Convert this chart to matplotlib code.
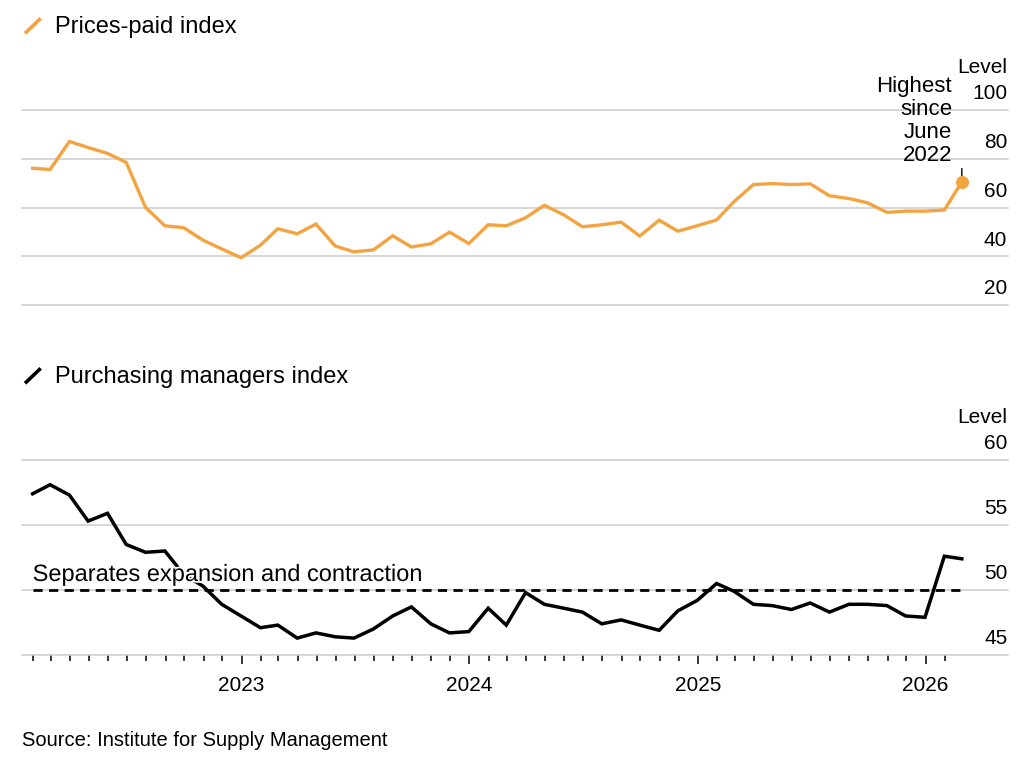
import matplotlib
matplotlib.use("Agg")
import matplotlib.pyplot as plt
import matplotlib.dates as mdates
from matplotlib.ticker import FixedLocator, NullFormatter
from matplotlib.lines import Line2D
import matplotlib.patheffects as pe
import pandas as pd

plt.rcParams['font.family'] = ['Liberation Sans', 'DejaVu Sans']

# ---------------- data ----------------
months = pd.date_range('2022-01-31', periods=50, freq='ME')   # monthly readings, Jan 2022 - Feb 2026

prices_paid = [76.1, 75.6, 87.1, 84.6, 82.2, 78.5, 60.0, 52.5, 51.7, 46.6, 43.0, 39.4,
               44.5, 51.3, 49.2, 53.2, 44.2, 41.8, 42.6, 48.4, 43.8, 45.1, 49.9, 45.2,
               52.9, 52.5, 55.8, 60.9, 57.0, 52.1, 52.9, 54.0, 48.3, 54.8, 50.3, 52.5,
               54.9, 62.4, 69.4, 69.8, 69.4, 69.7, 64.8, 63.7, 61.9, 58.0, 58.5, 58.5,
               59.0, 70.5]

pmi = [57.4, 58.1, 57.3, 55.3, 55.9, 53.5, 52.9, 53.0, 51.2, 50.3, 48.9, 48.0,
       47.1, 47.3, 46.3, 46.7, 46.4, 46.3, 47.0, 48.0, 48.7, 47.4, 46.7, 46.8,
       48.6, 47.3, 49.8, 48.9, 48.6, 48.3, 47.4, 47.7, 47.3, 46.9, 48.4, 49.2,
       50.5, 49.9, 48.9, 48.8, 48.5, 49.0, 48.3, 48.9, 48.9, 48.8, 48.0, 47.9,
       52.6, 52.4]

prices_levels = [20, 40, 60, 80, 100]
pmi_levels = [45, 50, 55, 60]
threshold = 50
year_ticks = pd.to_datetime(['2023-01-01', '2024-01-01', '2025-01-01', '2026-01-01'])
month_ticks = pd.date_range('2022-02-01', '2026-02-01', freq='MS')

title_top = 'Prices-paid index'
title_bottom = 'Purchasing managers index'
note_text = 'Highest\nsince\nJune\n2022'
threshold_text = 'Separates expansion and contraction'
source_text = 'Source: Institute for Supply Management'

# ---------------- style ----------------
ORANGE = '#F3A340'
GRID = '#cccccc'
W, H = 1035, 770

fig = plt.figure(figsize=(W / 100, H / 100), dpi=100)


def fx(px):
    return px / W


def fy(py):
    return 1 - py / H


ax1 = fig.add_axes([fx(22), fy(305), (1008 - 22) / W, (305 - 110) / H])
ax2 = fig.add_axes([fx(22), fy(655), (1008 - 22) / W, (655 - 460) / H])

xlim = (pd.Timestamp('2022-01-14'), pd.Timestamp('2026-05-13'))

for ax, levels in ((ax1, prices_levels), (ax2, pmi_levels)):
    for s in ax.spines.values():
        s.set_visible(False)
    ax.set_xlim(*xlim)
    ax.set_ylim(levels[0], levels[-1])
    ax.set_yticks(levels)
    ax.yaxis.grid(True, color=GRID, lw=1.1)
    for gl in ax.get_ygridlines():
        gl.set_clip_on(False)
    ax.tick_params(axis='y', left=False, right=False, labelleft=False, labelright=False)
    ax.set_axisbelow(True)
    ax.patch.set_alpha(0)
    # right-side level labels, sitting above each gridline
    for v in levels:
        ax.annotate(str(v), xy=(1, v), xycoords=('axes fraction', 'data'),
                    xytext=(-0.5, 7.6), textcoords='offset points',
                    ha='right', va='baseline', fontsize=15, color='black')
    ax.annotate('Level', xy=(1, levels[-1]), xycoords=('axes fraction', 'data'),
                xytext=(-0.5, 26.6), textcoords='offset points',
                ha='right', va='baseline', fontsize=15, color='black')

# upper panel
ax1.tick_params(axis='x', bottom=False, labelbottom=False)
ax1.plot(months, prices_paid, color=ORANGE, lw=2.4, solid_joinstyle='miter', zorder=3)
ax1.plot(months[-1], prices_paid[-1], 'o', ms=8.4, color=ORANGE, zorder=5)
ax1.annotate('', xy=(months[-1], prices_paid[-1]), xytext=(0, 9.6), textcoords='offset points',
             arrowprops=dict(arrowstyle='-', lw=1.0, color='black', shrinkA=0, shrinkB=0), zorder=4)
ax1.annotate(note_text, xy=(months[-1], prices_paid[-1]), xytext=(-7, 76.3),
             textcoords='offset points', ha='right', va='top', multialignment='right',
             fontsize=16, linespacing=1.13, color='black')

# lower panel
ax2.plot(months, pmi, color='black', lw=2.5, solid_joinstyle='miter', zorder=3)
ax2.hlines(threshold, months[0], months[-1], colors='black', lw=2.0,
           linestyles=(0, (3.3, 2.3)), zorder=2)
ax2.annotate(threshold_text, xy=(months[0], threshold), xytext=(0, 6.5),
             textcoords='offset points', ha='left', va='baseline', fontsize=17,
             color='black', zorder=4,
             path_effects=[pe.withStroke(linewidth=2.5, foreground='white')])

ax2.xaxis.set_major_locator(FixedLocator(mdates.date2num(year_ticks)))
ax2.xaxis.set_major_formatter(mdates.DateFormatter('%Y'))
minor = [m for m in month_ticks if m not in set(year_ticks)]
ax2.xaxis.set_minor_locator(FixedLocator(mdates.date2num(minor)))
ax2.xaxis.set_minor_formatter(NullFormatter())
ax2.tick_params(axis='x', which='major', length=6.5, width=1.1, color='black',
                direction='out', labelsize=15, pad=8.4, labelcolor='black')
ax2.tick_params(axis='x', which='minor', length=4.3, width=1.1, color='black',
                direction='out')

# titles with line icons
fig.text(fx(55), fy(33.3), title_top, fontsize=17, va='baseline', color='black')
fig.add_artist(Line2D([fx(25), fx(40.7)], [fy(33.3), fy(18.3)], transform=fig.transFigure,
                      color=ORANGE, lw=2.6, solid_capstyle='butt'))
fig.text(fx(55), fy(382.7), title_bottom, fontsize=17, va='baseline', color='black')
fig.add_artist(Line2D([fx(25), fx(40.7)], [fy(383.3), fy(368.3)], transform=fig.transFigure,
                      color='black', lw=2.6, solid_capstyle='butt'))

fig.text(fx(22), fy(746), source_text, fontsize=14.5, va='baseline', color='black')

fig.savefig('out.png', dpi=100)
